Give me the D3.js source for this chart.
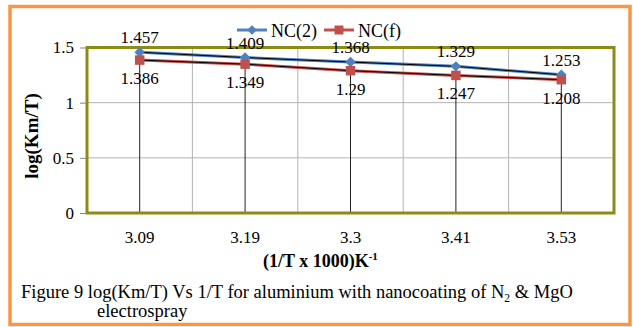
<!DOCTYPE html>
<html>
<head>
<meta charset="utf-8">
<script src="https://cdn.jsdelivr.net/npm/d3@7"></script>
<style>
	body { margin: 0; background: #fff; }
	svg text { font-family: "Liberation Serif", "Times New Roman", serif; fill: #000; }
</style>
</head>
<body>
<svg id="chart" width="633" height="327"></svg>
<script>
// data
var categories = ["3.09", "3.19", "3.3", "3.41", "3.53"];
var nc2 = [1.457, 1.409, 1.368, 1.329, 1.253];
var ncf = [1.386, 1.349, 1.29, 1.247, 1.208];
var yTicks = [0, 0.5, 1, 1.5];

var svg = d3.select("#chart");
var plot = { left: 87, right: 614, top: 47.5, bottom: 213 };

// outer orange frame
svg.append("rect")
	.attr("x", 10).attr("y", 6.5)
	.attr("width", 620).attr("height", 318)
	.attr("fill", "#fff")
	.attr("stroke", "#f79646")
	.attr("stroke-width", 3.5);

var x = d3.scaleBand().domain(categories).range([plot.left, plot.right]);
var y = d3.scaleLinear().domain([0, 1.5]).range([plot.bottom, plot.top]);

// grid
var g = svg.append("g");
g.selectAll(".hgrid").data(yTicks.slice(1, 3)).enter().append("line")
	.attr("x1", plot.left).attr("x2", plot.right)
	.attr("y1", function(d){ return y(d); }).attr("y2", function(d){ return y(d); })
	.attr("stroke", "#b3b3b3").attr("stroke-width", 1);
g.selectAll(".vgrid").data(categories.slice(1)).enter().append("line")
	.attr("x1", function(d){ return x(d); }).attr("x2", function(d){ return x(d); })
	.attr("y1", plot.top).attr("y2", plot.bottom)
	.attr("stroke", "#b3b3b3").attr("stroke-width", 1);

// drop lines
g.selectAll(".drop").data(categories).enter().append("line")
	.attr("x1", function(d){ return x(d) + x.bandwidth() / 2; })
	.attr("x2", function(d){ return x(d) + x.bandwidth() / 2; })
	.attr("y1", function(d, i){ return y(nc2[i]); })
	.attr("y2", plot.bottom)
	.attr("stroke", "#222").attr("stroke-width", 1);

// y axis ticks + labels
var yAxis = d3.axisLeft(y).tickValues(yTicks).tickSize(7).tickPadding(6)
	.tickFormat(function(d){ return d; });
svg.append("g")
	.attr("transform", "translate(" + plot.left + ",0)")
	.call(yAxis)
	.call(function(s){
		s.select(".domain").remove();
		s.selectAll(".tick line").attr("stroke", "#888");
		s.selectAll(".tick text").attr("font-size", 17).attr("fill", "#000");
	});

// x labels
var xAxis = d3.axisBottom(x).tickSize(0).tickPadding(18);
svg.append("g")
	.attr("transform", "translate(0," + plot.bottom + ")")
	.call(xAxis)
	.call(function(s){
		s.select(".domain").remove();
		s.selectAll(".tick text").attr("font-size", 17).attr("fill", "#000");
	});

// olive plot border
svg.append("rect")
	.attr("x", plot.left).attr("y", plot.top)
	.attr("width", plot.right - plot.left).attr("height", plot.bottom - plot.top)
	.attr("fill", "none")
	.attr("stroke", "#8c8c14")
	.attr("stroke-width", 3);

// series
var cx = function(d, i){ return x(categories[i]) + x.bandwidth() / 2; };
var line = d3.line().x(cx).y(function(d){ return y(d); });

[[nc2, "#4f81bd"], [ncf, "#c0504d"]].forEach(function(s){
	svg.append("path").datum(s[0]).attr("d", line)
		.attr("fill", "none").attr("stroke", s[1]).attr("stroke-width", 3);
	svg.append("path").datum(s[0]).attr("d", line)
		.attr("fill", "none").attr("stroke", "#000").attr("stroke-width", 1);
});

svg.selectAll(".m2").data(nc2).enter().append("path")
	.attr("d", d3.symbol().type(d3.symbolDiamond2).size(70))
	.attr("transform", function(d, i){ return "translate(" + cx(d, i) + "," + y(d) + ")"; })
	.attr("fill", "#4f81bd");
svg.selectAll(".mf").data(ncf).enter().append("path")
	.attr("d", d3.symbol().type(d3.symbolSquare).size(90))
	.attr("transform", function(d, i){ return "translate(" + cx(d, i) + "," + y(d) + ")"; })
	.attr("fill", "#c0504d");

// data labels
svg.selectAll(".l2").data(nc2).enter().append("text")
	.attr("x", cx).attr("y", function(d){ return y(d) - 9; })
	.attr("text-anchor", "middle").attr("font-size", 17)
	.text(function(d){ return d; });
svg.selectAll(".lf").data(ncf).enter().append("text")
	.attr("x", cx).attr("y", function(d){ return y(d) + 24; })
	.attr("text-anchor", "middle").attr("font-size", 17)
	.text(function(d){ return d; });

// legend
var legend = [["NC(2)", "#4f81bd", d3.symbolDiamond2, 60, 237], ["NC(f)", "#c0504d", d3.symbolSquare, 80, 324]];
legend.forEach(function(l){
	var lg = svg.append("g").attr("transform", "translate(" + l[4] + ",30)");
	lg.append("line").attr("x1", 0).attr("x2", 30).attr("stroke", l[1]).attr("stroke-width", 3);
	lg.append("path").attr("d", d3.symbol().type(l[2]).size(l[3]))
		.attr("transform", "translate(15,0)").attr("fill", l[1]);
	lg.append("text").attr("x", 34).attr("y", 7).attr("font-size", 18).text(l[0]);
});

// axis titles
svg.append("text")
	.attr("transform", "translate(38,136) rotate(-90)")
	.attr("text-anchor", "middle").attr("font-size", 19).attr("font-weight", "bold")
	.text("log(Km/T)");
var xt = svg.append("text")
	.attr("x", 263).attr("y", 267)
	.attr("font-size", 18).attr("font-weight", "bold");
xt.append("tspan").text("(1/T x 1000)K");
xt.append("tspan").attr("font-size", 11).attr("dy", -7).text("-1");

// caption
var cap = svg.append("text").attr("x", 21).attr("y", 298).attr("font-size", 18.5);
cap.append("tspan").text("Figure 9 log(Km/T) Vs 1/T for aluminium with nanocoating of N");
cap.append("tspan").attr("font-size", 11.5).attr("dy", 4).text("2");
cap.append("tspan").attr("dy", -4).text(" & MgO");
svg.append("text").attr("x", 97).attr("y", 317).attr("font-size", 18.5).text("electrospray");
</script>
</body>
</html>
